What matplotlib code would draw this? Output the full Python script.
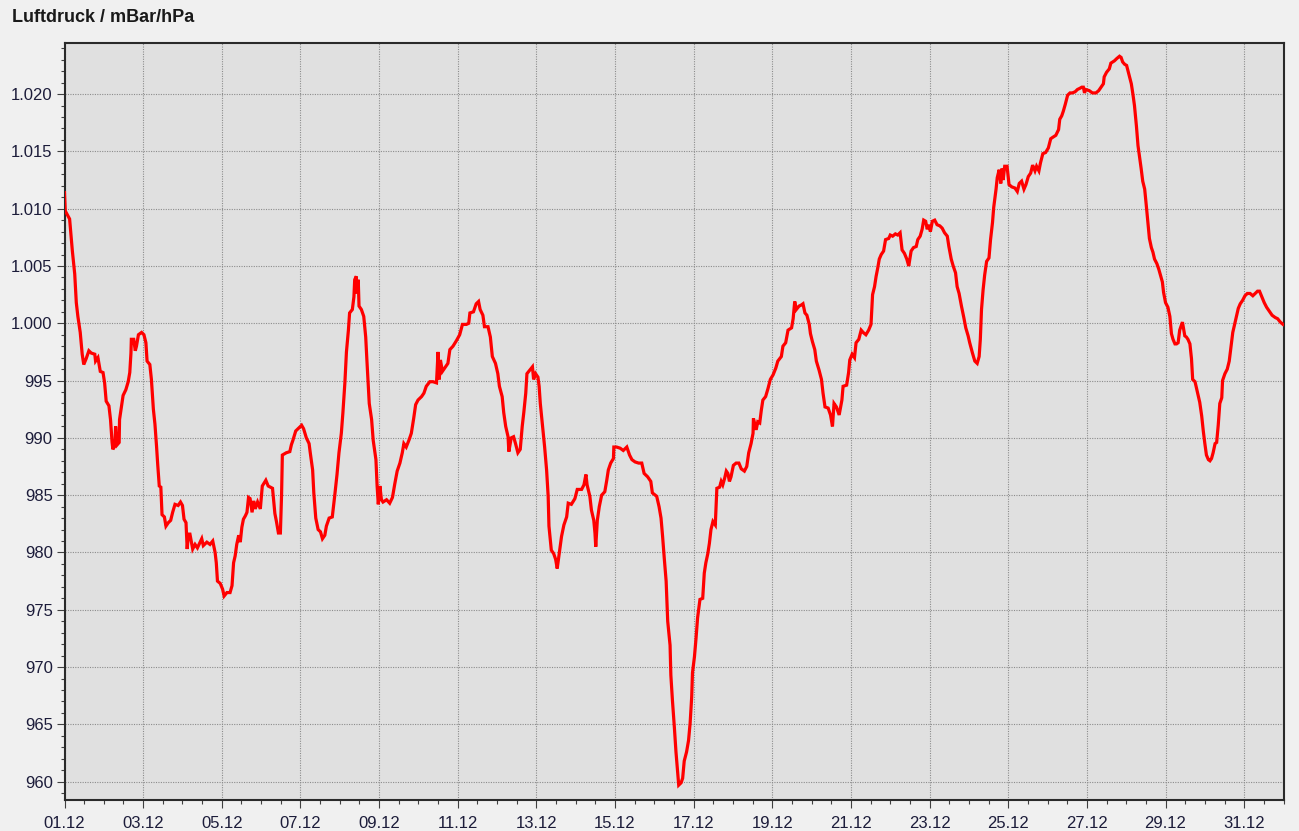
import matplotlib
matplotlib.use("Agg")
import matplotlib.pyplot as plt
from matplotlib.ticker import MultipleLocator, FuncFormatter, FixedLocator

# ---- data (days since 01.12 00:00, pressure in hPa) ----
seg_days_1 = [0.0, 0.02, 0.13, 0.2, 0.26, 0.3, 0.34, 0.4, 0.45, 0.49, 0.55, 0.62, 0.68, 0.77, 0.79, 0.85,
              0.91, 0.98, 1.02, 1.06, 1.13, 1.17, 1.21, 1.23, 1.28, 1.30, 1.34, 1.39, 1.40, 1.45, 1.49, 1.56,
              1.62, 1.66, 1.69, 1.70, 1.76, 1.80, 1.83, 1.88, 1.96, 2.02, 2.07, 2.10, 2.17, 2.21, 2.26, 2.30,
              2.34, 2.37, 2.41, 2.45, 2.48, 2.54, 2.58, 2.64, 2.70, 2.75, 2.81, 2.89, 2.95, 3.00, 3.04, 3.09,
              3.12, 3.15, 3.19, 3.26, 3.32, 3.38, 3.45, 3.49, 3.53, 3.62, 3.70, 3.77, 3.83, 3.86, 3.89, 3.96,
              4.02, 4.06, 4.13, 4.21, 4.26, 4.30, 4.34, 4.38, 4.43, 4.47, 4.51, 4.55, 4.60, 4.64, 4.68, 4.72,
              4.77, 4.81, 4.85, 4.91, 4.98]
seg_vals_1 = [1011.4, 1009.8, 1009.1, 1006.3, 1004.3, 1001.8, 1000.6, 999.2, 997.3, 996.4, 996.9, 997.6, 997.4,
              997.3, 996.7, 997.0, 995.8, 995.7, 994.8, 993.2, 992.8, 991.6, 989.6, 989.0, 989.3, 991.0, 989.4,
              989.6, 991.6, 992.8, 993.7, 994.2, 994.9, 995.7, 997.4, 998.6, 998.6, 997.6, 998.0, 999.0, 999.2,
              999.0, 998.3, 996.7, 996.4, 995.1, 992.5, 991.2, 989.3, 987.7, 985.8, 985.7, 983.3, 983.1, 982.3,
              982.6, 982.8, 983.5, 984.2, 984.1, 984.4, 984.1, 982.9, 982.6, 980.3, 981.6, 981.6, 980.3, 980.7,
              980.4, 980.9, 981.2, 980.6, 980.9, 980.7, 981.0, 980.0, 979.1, 977.5, 977.3, 976.8, 976.2, 976.5,
              976.5, 977.1, 979.1, 979.7, 980.7, 981.5, 980.9, 982.2, 982.9, 983.2, 983.5, 984.8, 984.7, 983.5,
              984.5, 983.8, 984.4, 983.8]

seg_days_2 = [5.03, 5.12, 5.18, 5.29, 5.35, 5.39, 5.44, 5.49, 5.52, 5.54, 5.64, 5.73, 5.77, 5.81, 5.88, 5.94,
              6.03, 6.08, 6.15, 6.22, 6.25, 6.31, 6.34, 6.39, 6.45, 6.51, 6.56, 6.62, 6.66, 6.73, 6.81, 6.87,
              6.93, 6.98, 7.04, 7.08, 7.13, 7.17, 7.22, 7.25, 7.32, 7.36, 7.38, 7.42, 7.44, 7.47, 7.49, 7.55,
              7.61, 7.66, 7.69, 7.75, 7.81, 7.85, 7.92, 7.95, 7.98, 8.02, 8.06, 8.10, 8.19, 8.27, 8.34, 8.40,
              8.46, 8.53, 8.59, 8.63, 8.69, 8.76, 8.82, 8.88, 8.93, 8.99, 9.08, 9.14, 9.20, 9.29, 9.37, 9.46,
              9.50, 9.53, 9.56, 9.61, 9.67, 9.75, 9.80, 9.88, 9.97, 10.05, 10.12, 10.22]
seg_vals_2 = [985.8, 986.3, 985.8, 985.6, 983.4, 982.7, 981.7, 981.7, 985.0, 988.5, 988.7, 988.8, 989.4, 989.8,
              990.6, 990.8, 991.1, 990.8, 990.0, 989.5, 988.7, 987.2, 985.2, 983.0, 982.0, 981.8, 981.2, 981.5,
              982.3, 983.0, 983.1, 984.9, 986.8, 988.7, 990.4, 992.2, 994.8, 997.5, 999.4, 1000.9, 1001.2,
              1002.3, 1003.8, 1004.1, 1002.6, 1003.8, 1001.5, 1001.2, 1000.6, 998.8, 996.8, 993.0, 991.6, 989.8,
              988.1, 985.8, 984.2, 985.8, 984.6, 984.4, 984.6, 984.3, 984.8, 986.0, 987.1, 987.8, 988.7, 989.5,
              989.2, 989.8, 990.4, 991.7, 992.9, 993.3, 993.6, 993.9, 994.5, 994.9, 994.9, 994.8, 997.5, 995.1,
              996.8, 995.8, 996.1, 996.5, 997.7, 998.0, 998.5, 999.0, 999.9, 999.9]

seg_days_3 = [10.28, 10.31, 10.40, 10.47, 10.53, 10.57, 10.64, 10.68, 10.77, 10.83, 10.88, 10.96, 11.02, 11.06,
              11.13, 11.17, 11.22, 11.28, 11.30, 11.36, 11.42, 11.47, 11.53, 11.59, 11.64, 11.68, 11.73, 11.76,
              11.83, 11.90, 11.93, 11.98, 12.04, 12.07, 12.10, 12.15, 12.21, 12.26, 12.30, 12.32, 12.38, 12.44,
              12.49, 12.53, 12.58, 12.64, 12.70, 12.77, 12.81, 12.89, 12.98, 13.04, 13.15, 13.21, 13.26, 13.29,
              13.36, 13.40, 13.46, 13.49, 13.51, 13.55, 13.60, 13.66, 13.74, 13.79, 13.83, 13.89, 13.96, 13.97,
              14.04, 14.13, 14.21, 14.30, 14.37, 14.43, 14.51, 14.60]
seg_vals_3 = [1000.0, 1000.9, 1001.0, 1001.7, 1001.9, 1001.2, 1000.7, 999.7, 999.7, 998.8, 997.1, 996.5, 995.6,
              994.5, 993.6, 992.2, 991.0, 990.1, 988.8, 990.0, 990.1, 989.5, 988.7, 989.0, 991.0, 992.2, 993.9,
              995.6, 995.9, 996.2, 995.1, 995.6, 995.3, 994.5, 993.0, 991.3, 989.2, 987.2, 984.9, 982.3, 980.2,
              979.9, 979.4, 978.6, 979.9, 981.4, 982.4, 983.1, 984.3, 984.2, 984.7, 985.5, 985.5, 985.9, 986.8,
              985.9, 984.9, 983.7, 982.8, 981.7, 980.5, 982.8, 984.0, 985.0, 985.3, 986.3, 987.2, 987.8, 988.2,
              989.2, 989.2, 989.1, 988.9, 989.2, 988.5, 988.1, 987.9, 987.8]

seg_days_4 = [14.68, 14.74, 14.83, 14.91, 14.95, 15.06, 15.12, 15.17, 15.21, 15.25, 15.30, 15.34, 15.40, 15.42,
              15.46, 15.51, 15.55, 15.59, 15.62, 15.68, 15.72, 15.76, 15.82, 15.87, 15.91, 15.95, 15.97, 16.02,
              16.06, 16.10, 16.16, 16.23, 16.27, 16.31, 16.36, 16.40, 16.44, 16.49, 16.55, 16.59, 16.66, 16.70,
              16.74, 16.79, 16.83, 16.87, 16.91, 16.95, 17.01, 17.08, 17.15, 17.21, 17.29, 17.35, 17.40, 17.46,
              17.51, 17.52, 17.59, 17.63, 17.68, 17.72, 17.76, 17.83, 17.89, 17.95, 18.02, 18.09, 18.14, 18.23,
              18.27, 18.34, 18.40, 18.49, 18.53, 18.57, 18.61, 18.68, 18.74, 18.78, 18.83, 18.88, 18.94, 18.97,
              19.02, 19.08, 19.12, 19.19, 19.25, 19.29, 19.34, 19.42, 19.48, 19.53, 19.57, 19.63]
seg_vals_4 = [987.8, 986.9, 986.6, 986.2, 985.2, 984.9, 984.0, 983.0, 981.4, 979.6, 977.5, 974.0, 971.9, 969.3,
              967.1, 964.7, 962.6, 960.9, 959.7, 959.9, 960.3, 961.8, 962.6, 963.6, 965.1, 967.4, 969.5, 970.9,
              972.5, 974.3, 975.9, 976.0, 978.2, 979.1, 979.9, 980.8, 982.0, 982.7, 982.4, 985.6, 985.7, 986.2,
              985.9, 986.5, 987.1, 986.9, 986.2, 986.6, 987.6, 987.8, 987.8, 987.3, 987.1, 987.5, 988.7, 989.5,
              990.4, 991.7, 990.7, 991.4, 991.3, 992.4, 993.3, 993.6, 994.3, 995.1, 995.5, 996.1, 996.7, 997.1,
              998.0, 998.3, 999.4, 999.6, 1000.4, 1001.9, 1001.2, 1001.5, 1001.6, 1001.7, 1000.9, 1000.7, 999.9,
              999.1, 998.4, 997.7, 996.7, 995.9, 995.1, 993.9, 992.7, 992.6, 992.0, 991.0, 993.0, 992.7]

seg_days_5 = [19.70, 19.77, 19.80, 19.89, 19.94, 19.97, 20.03, 20.09, 20.13, 20.20, 20.26, 20.31, 20.38, 20.45,
              20.51, 20.55, 20.60, 20.64, 20.68, 20.72, 20.77, 20.83, 20.88, 20.96, 21.00, 21.06, 21.13, 21.19,
              21.25, 21.30, 21.36, 21.42, 21.47, 21.53, 21.59, 21.66, 21.70, 21.76, 21.81, 21.85, 21.90, 21.94,
              21.98, 22.02, 22.07, 22.13, 22.19, 22.26, 22.32, 22.38, 22.45, 22.49, 22.55, 22.60, 22.66, 22.70,
              22.75, 22.81, 22.87, 22.92, 22.98, 23.02, 23.09, 23.15, 23.21, 23.26, 23.29, 23.32, 23.36, 23.40,
              23.45, 23.51, 23.55, 23.60, 23.63, 23.69, 23.72, 23.77, 23.81, 23.84, 23.87, 23.91, 23.97, 24.02,
              24.09, 24.17, 24.23, 24.28, 24.34, 24.40, 24.45, 24.51, 24.57, 24.62, 24.68, 24.72]
seg_vals_5 = [992.0, 993.3, 994.5, 994.6, 995.7, 996.8, 997.3, 997.0, 998.3, 998.6, 999.4, 999.2, 999.0, 999.4,
              999.9, 1002.5, 1003.2, 1004.1, 1004.8, 1005.6, 1006.0, 1006.3, 1007.3, 1007.4, 1007.7, 1007.6,
              1007.8, 1007.7, 1007.9, 1006.4, 1006.1, 1005.6, 1005.0, 1006.3, 1006.6, 1006.7, 1007.3, 1007.6,
              1008.2, 1009.0, 1008.9, 1008.2, 1008.6, 1008.0, 1008.9, 1009.0, 1008.6, 1008.5, 1008.3, 1007.9,
              1007.6, 1006.7, 1005.6, 1005.0, 1004.4, 1003.2, 1002.6, 1001.5, 1000.5, 999.6, 998.9, 998.3, 997.4,
              996.7, 996.5, 997.1, 998.6, 1001.2, 1002.9, 1004.2, 1005.4, 1005.7, 1007.3, 1008.8, 1010.1, 1011.7,
              1012.7, 1013.4, 1012.2, 1013.5, 1012.5, 1013.7, 1013.7, 1012.1, 1011.9, 1011.8, 1011.5, 1012.2,
              1012.4, 1011.7, 1012.1, 1012.8, 1013.1, 1013.8, 1013.3, 1013.7]

seg_days_6 = [24.78, 24.82, 24.88, 24.95, 25.02, 25.08, 25.12, 25.21, 25.28, 25.31, 25.36, 25.40, 25.45, 25.51,
              25.57, 25.63, 25.70, 25.76, 25.82, 25.87, 25.91, 25.94, 25.97, 26.06, 26.14, 26.23, 26.30, 26.36,
              26.42, 26.44, 26.50, 26.57, 26.61, 26.70, 26.76, 26.83, 26.87, 26.91, 26.96, 27.01, 27.07, 27.13,
              27.17, 27.21, 27.26, 27.30, 27.34, 27.38, 27.42, 27.47, 27.51, 27.55, 27.59, 27.64, 27.68, 27.72,
              27.78, 27.83, 27.87, 27.92, 27.95, 28.00, 28.06, 28.11, 28.15, 28.19, 28.24, 28.28, 28.32, 28.36,
              28.40, 28.43, 28.46, 28.49, 28.53, 28.57, 28.62, 28.66, 28.69, 28.75, 28.79, 28.83, 28.87, 28.92,
              28.96, 29.00, 29.04, 29.09, 29.13, 29.17, 29.21, 29.26, 29.30, 29.34, 29.38, 29.43, 29.45, 29.51,
              29.57, 29.62, 29.66, 29.71, 29.77, 29.81, 29.85, 29.90, 29.96, 30.02, 30.08, 30.15, 30.22, 30.28,
              30.34, 30.39, 30.45, 30.51, 30.57, 30.65, 30.71, 30.79, 30.85, 30.92, 30.99]
seg_vals_6 = [1013.3, 1014.0, 1014.8, 1014.9, 1015.3, 1016.1, 1016.2, 1016.4, 1016.9, 1017.8, 1018.1, 1018.5,
              1019.1, 1019.9, 1020.1, 1020.1, 1020.2, 1020.4, 1020.5, 1020.6, 1020.6, 1020.1, 1020.4, 1020.3,
              1020.1, 1020.1, 1020.3, 1020.6, 1020.9, 1021.5, 1021.9, 1022.2, 1022.7, 1022.9, 1023.1, 1023.3,
              1023.2, 1022.8, 1022.6, 1022.5, 1021.7, 1020.9, 1020.0, 1019.0, 1017.2, 1015.5, 1014.5, 1013.5,
              1012.4, 1011.7, 1010.3, 1008.8, 1007.4, 1006.6, 1006.2, 1005.6, 1005.2, 1004.7, 1004.2, 1003.6,
              1002.7, 1001.8, 1001.4, 1000.6, 999.1, 998.6, 998.2, 998.2, 998.3, 999.4, 999.8, 1000.1, 999.5,
              998.9, 998.8, 998.6, 998.2, 996.9, 995.1, 994.9, 994.3, 993.7, 993.1, 991.9, 990.6, 989.5, 988.5,
              988.1, 988.0, 988.2, 988.7, 989.5, 989.6, 991.1, 993.0, 993.5, 995.0, 995.6, 996.0, 996.7, 997.8,
              999.2, 1000.1, 1000.7, 1001.3, 1001.7, 1002.0, 1002.4, 1002.6, 1002.6, 1002.4, 1002.6, 1002.8,
              1002.8, 1002.3, 1001.8, 1001.4, 1001.0, 1000.7, 1000.5, 1000.4, 1000.1, 999.9]

day_offsets = seg_days_1 + seg_days_2 + seg_days_3 + seg_days_4 + seg_days_5 + seg_days_6
pressure_hpa = seg_vals_1 + seg_vals_2 + seg_vals_3 + seg_vals_4 + seg_vals_5 + seg_vals_6

x_tick_pos = list(range(0, 31, 2))
x_tick_labels = [f"{d + 1:02d}.12" for d in x_tick_pos]
y_ticks = list(range(960, 1021, 5))
title_text = "Luftdruck / mBar/hPa"

# ---- figure ----
W, H = 1299, 831
fig = plt.figure(figsize=(W / 100, H / 100), dpi=100, facecolor="#f0f0f0")
left, right, top, bottom = 64.5, 1283.5, 42.5, 800.0
ax = fig.add_axes([left / W, 1 - bottom / H, (right - left) / W, (bottom - top) / H])
ax.set_facecolor("#e0e0e0")

ax.plot(day_offsets, pressure_hpa, color="#ff0000", lw=2.3, solid_joinstyle="miter", zorder=3)

ax.set_xlim(0, 31)
ax.set_ylim(958.4, 1024.5)

ax.xaxis.set_major_locator(FixedLocator(x_tick_pos))
ax.set_xticklabels(x_tick_labels)
ax.xaxis.set_minor_locator(MultipleLocator(0.5))
ax.yaxis.set_major_locator(FixedLocator(y_ticks))
ax.yaxis.set_minor_locator(MultipleLocator(1))
ax.yaxis.set_major_formatter(FuncFormatter(lambda v, p: f"{v:,.0f}".replace(",", ".")))

ax.grid(True, which="major", color="#8c8c8c", lw=0.8, linestyle=(0, (1, 1.2)), zorder=1)
ax.set_axisbelow(True)

for s in ax.spines.values():
    s.set_color("#2a2a2a")
    s.set_linewidth(1.5)

ax.tick_params(which="major", length=5.5, width=0.8, color="#404040", labelsize=12,
               labelcolor="#1c1c3a")
ax.tick_params(axis="y", which="major", pad=3)
ax.tick_params(axis="x", which="major", pad=6)
ax.tick_params(which="minor", length=3, width=0.8, color="#404040")
for lab in ax.get_xticklabels() + ax.get_yticklabels():
    lab.set_fontfamily("Liberation Sans")

fig.text(12 / W, 1 - 18 / H, title_text, fontsize=13, fontweight="bold",
         family="Liberation Sans", color="#1a1a1a", ha="left", va="center")

fig.savefig("out.png", dpi=100, facecolor=fig.get_facecolor())
